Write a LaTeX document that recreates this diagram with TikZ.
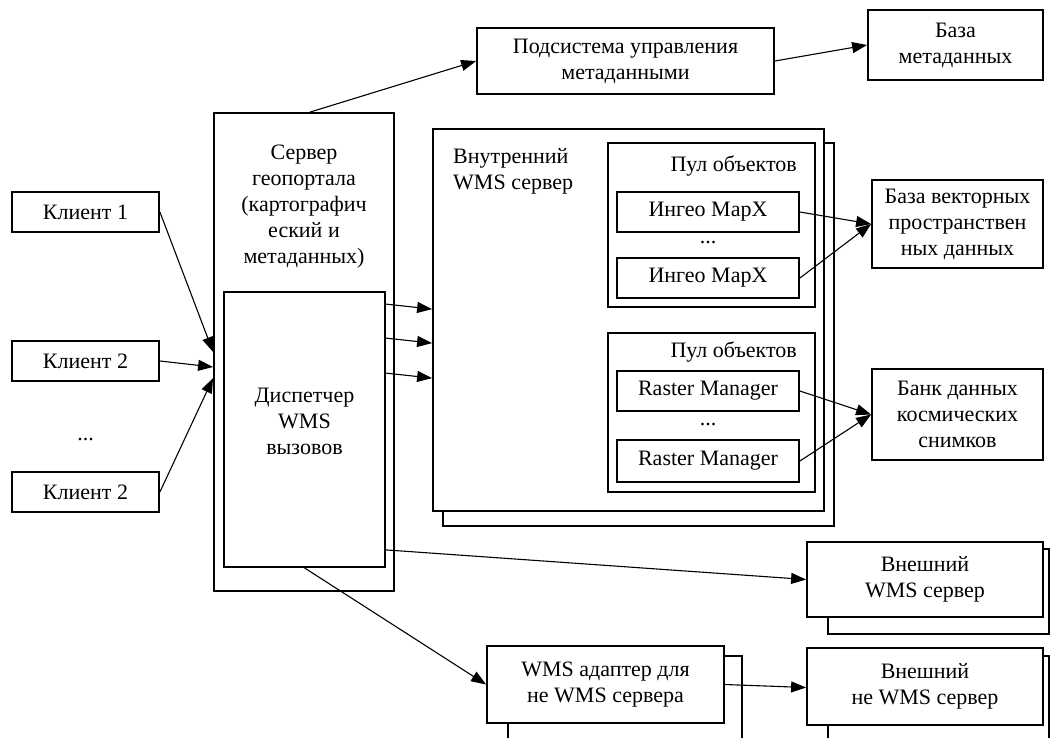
\documentclass[tikz,border=0pt]{standalone}
\usepackage{fontspec}
\setmainfont{Liberation Serif}
\usetikzlibrary{arrows.meta, positioning}

\tikzset{
    box/.style={draw, line width=1.8pt, fill=white, inner sep=0pt, align=center,
        font=\fontsize{22}{26}\selectfont},
    backBox/.style={draw, line width=1.8pt, fill=white},
    plainText/.style={inner sep=0pt, align=center, font=\fontsize{22}{26}\selectfont},
    link/.style={line width=1.1pt, -{Triangle[length=15pt, width=11pt]}}
}

\begin{document}
\begin{tikzpicture}[x=1pt, y=-1pt]
    \useasboundingbox (0,0) rectangle (1051,737);
    \clip (0,0) rectangle (1051,737);

    % clients
    \node[box, minimum width=147pt, minimum height=40pt] (clientOne) at (85.5,212) {Клиент 1};
    \node[box, minimum width=147pt, minimum height=40pt] (clientTwo) at (85.5,361) {Клиент 2};
    \node[plainText] (clientDots) at (85.5,440) {...};
    \node[box, minimum width=147pt, minimum height=40pt] (clientThree) at (85.5,492) {Клиент 2};

    % geoportal server
    \node[box, minimum width=180pt, minimum height=478pt] (serverBox) at (304,352) {};
    \node[plainText] (serverText) at (304,207) {Сервер\\геопортала\\(картографич\\еский и\\метаданных)};
    \node[box, minimum width=161pt, minimum height=275pt] (dispBox) at (304.5,429.5) {};
    \node[plainText] (dispText) at (304.5,421) {Диспетчер\\WMS\\вызовов};

    % metadata
    \node[box, minimum width=297pt, minimum height=66pt] (metaSub) at (625.5,61) {Подсистема управления\\метаданными};
    \node[box, minimum width=175pt, minimum height=70pt] (metaBase) at (955.5,45) {База\\метаданных};

    % internal WMS server
    \draw[backBox] (443,143) rectangle (834,526);
    \node[box, minimum width=391pt, minimum height=382pt] (innerWms) at (628.5,320) {};
    \node[plainText, align=left, anchor=north west] (innerWmsText) at (453,148) {Внутренний\\WMS сервер};

    \node[box, minimum width=207pt, minimum height=164pt] (poolOne) at (711.5,225) {};
    \node[plainText, anchor=east] (poolOneText) at (797,166) {Пул объектов};
    \node[box, minimum width=182pt, minimum height=40pt] (mapxOne) at (708,212) {Ингео MapX};
    \node[plainText] (mapxDots) at (708,243) {...};
    \node[box, minimum width=182pt, minimum height=40pt] (mapxTwo) at (708,278) {Ингео MapX};

    \node[box, minimum width=207pt, minimum height=159pt] (poolTwo) at (711.5,412.5) {};
    \node[plainText, anchor=east] (poolTwoText) at (797,352) {Пул объектов};
    \node[box, minimum width=182pt, minimum height=40pt] (rasterOne) at (708,391) {Raster Manager};
    \node[plainText] (rasterDots) at (708,425) {...};
    \node[box, minimum width=182pt, minimum height=42pt] (rasterTwo) at (708,461) {Raster Manager};

    % data stores
    \node[box, minimum width=171pt, minimum height=88pt] (vectorBase) at (957.5,224) {База векторных\\пространствен\\ных данных};
    \node[box, minimum width=171pt, minimum height=91pt] (imageBank) at (957.5,414.5) {Банк данных\\космических\\снимков};

    % external servers
    \draw[backBox] (828,549) rectangle (1049,634);
    \node[box, minimum width=236pt, minimum height=75pt] (extWms) at (925,579.5) {Внешний\\WMS сервер};
    \draw[backBox] (508,656) rectangle (742,760);
    \node[box, minimum width=237pt, minimum height=77pt] (adapter) at (605.5,684.5) {WMS адаптер для\\не WMS сервера};
    \draw[backBox] (828,656) rectangle (1049,760);
    \node[box, minimum width=236pt, minimum height=77pt] (extNonWms) at (925,686.5) {Внешний\\не WMS сервер};

    % connectors
    \draw[link] (clientOne.east) -- (serverBox.west);
    \draw[link] (clientTwo.east) -- ([yshift=-15pt]serverBox.west);
    \draw[link] (clientThree.east) -- ([yshift=-26pt]serverBox.west);

    \draw[link] ([xshift=6pt]serverBox.north) -- (metaSub.west);
    \draw[link] (metaSub.east) -- (metaBase.west);

    \foreach \dy in {13,47,82}
        \draw[link] ([yshift=-\dy pt]dispBox.north east) -- ([yshift=-\dy pt-168pt]innerWms.north west);

    \draw[link] (mapxOne.east) -- (vectorBase.west);
    \draw[link] (mapxTwo.east) -- (vectorBase.west);
    \draw[link] (rasterOne.east) -- (imageBank.west);
    \draw[link] (rasterTwo.east) -- (imageBank.west);

    \draw[link] ([yshift=18pt]dispBox.south east) -- (extWms.west);
    \draw[link] (dispBox.south) -- (adapter.west);
    \draw[link] (adapter.east) -- ([yshift=-1pt]extNonWms.west);
\end{tikzpicture}
\end{document}
